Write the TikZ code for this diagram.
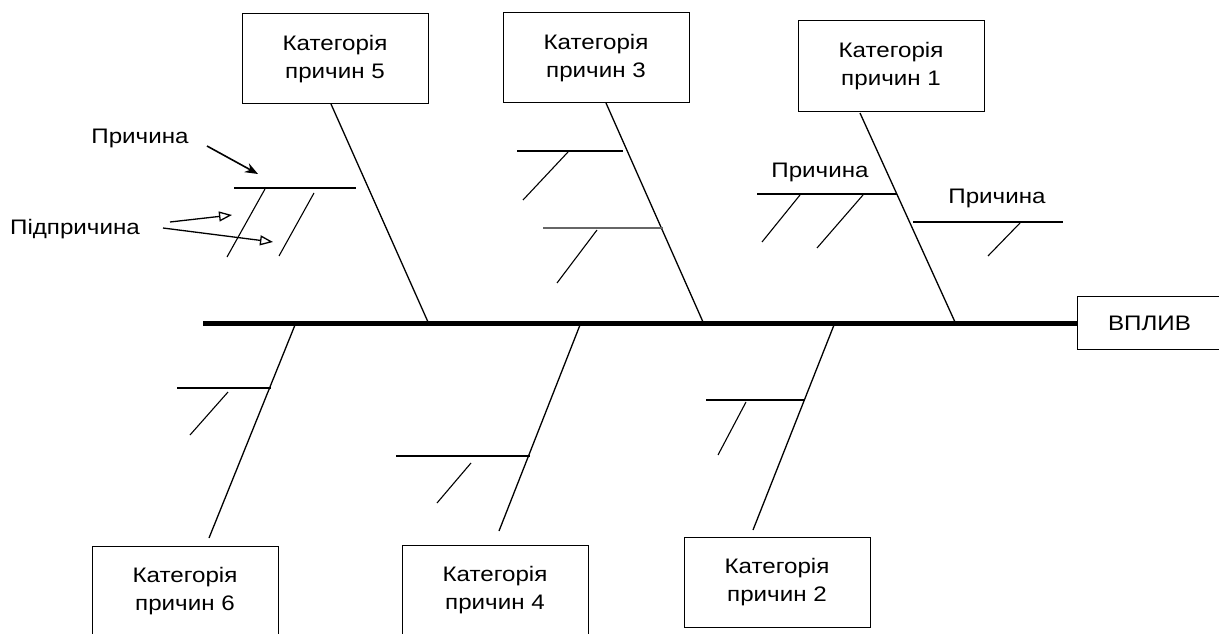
\documentclass[tikz,border=0pt]{standalone}
\usepackage{fontspec}
\setmainfont{Liberation Sans}[FakeStretch=1.15]
\usetikzlibrary{positioning}
\usetikzlibrary{arrows.meta}
\tikzstyle{cat} = [rectangle,draw=black,line width=1pt,minimum width=186pt,minimum height=90pt,align=center,font=\fontsize{21}{28}\selectfont]
\tikzstyle{lbl} = [font=\fontsize{21}{24}\selectfont]
\tikzstyle{bone} = [line width=1.3pt]
\tikzstyle{cause} = [line width=1.1pt]

\begin{document}
\begin{tikzpicture}[x=1pt,y=-1pt]
  \useasboundingbox (0,0) rectangle (1219,634);

  % effect and spine
  \node [cat,minimum width=145pt,minimum height=53pt] (eff) at (1149.5,323) {ВПЛИВ};
  \coordinate (tail) at (203,323);
  \draw [line width=5pt] (tail) -- (eff.west);

  % category boxes
  \node [cat] (n5) at (335,59) {Категорія\\причин 5};
  \node [cat] (n3) at (596,58) {Категорія\\причин 3};
  \node [cat] (n1) at (891,66) {Категорія\\причин 1};
  \node [cat] (n6) at (185,591) {Категорія\\причин 6};
  \node [cat] (n4) at (495,590) {Категорія\\причин 4};
  \node [cat] (n2) at (777,582) {Категорія\\причин 2};

  % bones
  \coordinate (t5) at (331,104);  \coordinate (s5) at (428,322);
  \coordinate (t3) at (606,103);  \coordinate (s3) at (703,322);
  \coordinate (t1) at (860,113);  \coordinate (s1) at (955,322);
  \coordinate (s6) at (295,325);  \coordinate (t6) at (209,538);
  \coordinate (s4) at (580,325);  \coordinate (t4) at (499,531);
  \coordinate (s2) at (834,325);  \coordinate (t2) at (753,530);
  \draw [bone] (t5) -- (s5);
  \draw [bone] (t3) -- (s3);
  \draw [bone] (t1) -- (s1);
  \draw [bone] (s6) -- (t6);
  \draw [bone] (s4) -- (t4);
  \draw [bone] (s2) -- (t2);

  % causes and subcauses
  \draw [cause] (234,188) -- (356,188);
  \draw [cause] (265,189) -- (227,257);
  \draw [cause] (314,193) -- (279,256);

  \draw [cause] (517,151) -- (623,151);
  \draw [cause] (568,152) -- (523,200);
  \draw [cause,black!60] (543,228) -- (663,228);
  \draw [cause] (597,230) -- (557,283);

  \draw [cause] (757,194) -- (897,194);
  \draw [cause] (800,195) -- (762,242);
  \draw [cause] (863,195) -- (817,248);
  \draw [cause] (913,222) -- (1063,222);
  \draw [cause] (1020,223) -- (988,256);

  \draw [cause] (177,388) -- (271,388);
  \draw [cause] (228,392) -- (190,435);

  \draw [cause] (396,456) -- (530,456);
  \draw [cause] (471,463) -- (437,503);

  \draw [cause] (706,400) -- (805,400);
  \draw [cause] (746,402) -- (718,455);

  % labels
  \node [lbl] (c1) at (140,138) {Причина};
  \node [lbl] (c2) at (75,229) {Підпричина};
  \node [lbl] (c3) at (820,172) {Причина};
  \node [lbl] (c4) at (997,198) {Причина};

  \coordinate (a1) at (207,146);  \coordinate (h1) at (258,174);
  \coordinate (a2) at (170,222);  \coordinate (h2) at (232,215);
  \coordinate (a3) at (163,228);  \coordinate (h3) at (273,242);
  \draw [-{Stealth[length=13pt,width=10pt]},line width=1.6pt] (a1) -- (h1);
  \draw [-{Triangle[open,length=13pt,width=10pt]},line width=1.3pt] (a2) -- (h2);
  \draw [-{Triangle[open,length=13pt,width=10pt]},line width=1.3pt] (a3) -- (h3);
\end{tikzpicture}
\end{document}
